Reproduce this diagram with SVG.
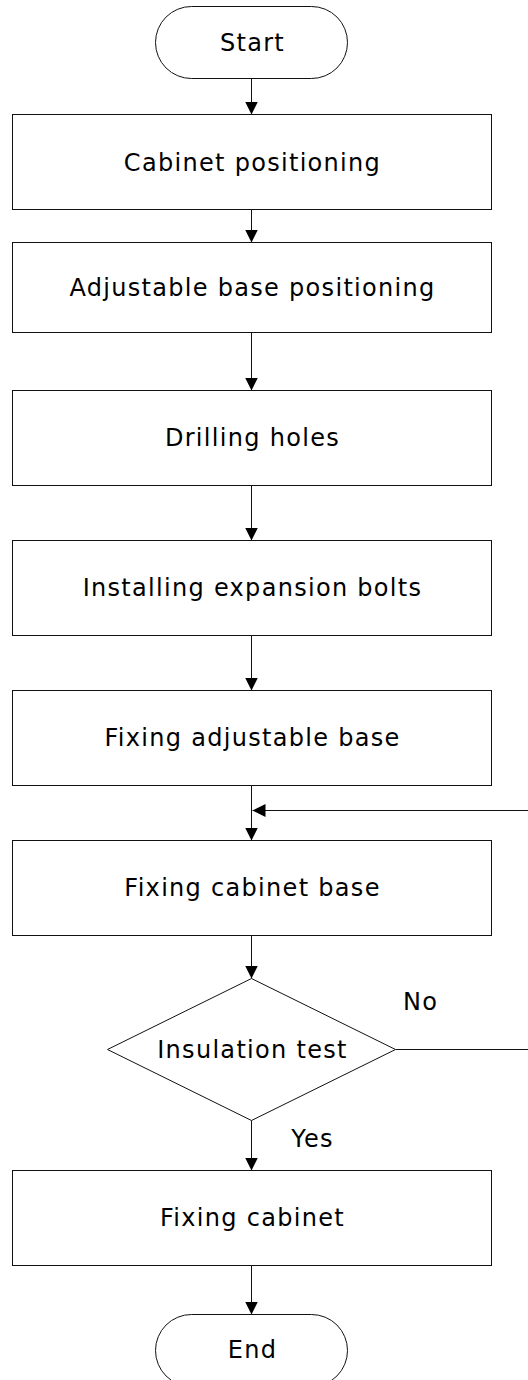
<svg xmlns="http://www.w3.org/2000/svg" width="528" height="1380" viewBox="0 0 528 1380">
<style>
.s{fill:#fff;stroke:#111;stroke-width:1}
.t{font-family:"DejaVu Sans",Verdana,sans-serif;font-size:24px;fill:#000;text-anchor:middle;dominant-baseline:central;letter-spacing:1.3px}
.c{fill:none;stroke:#111;stroke-width:1}
</style>
<defs>
<marker id="ah" markerUnits="userSpaceOnUse" markerWidth="14" markerHeight="14" refX="13" refY="6.5" orient="auto"><path d="M0,0 L13,6.5 L0,13 Z" fill="#000"/></marker>
</defs>
<rect width="528" height="1380" fill="#fff"/>
<g transform="translate(0.5,0.5)">
<g id="connectors">
<path class="c" d="M251,78 V114" marker-end="url(#ah)"/>
<path class="c" d="M251,209 V242" marker-end="url(#ah)"/>
<path class="c" d="M251,332 V390" marker-end="url(#ah)"/>
<path class="c" d="M251,485 V540" marker-end="url(#ah)"/>
<path class="c" d="M251,635 V690" marker-end="url(#ah)"/>
<path class="c" d="M251,785 V840" marker-end="url(#ah)"/>
<path class="c" d="M251,935 V978" marker-end="url(#ah)"/>
<path class="c" d="M251,1120 V1170" marker-end="url(#ah)"/>
<path class="c" d="M251,1265 V1314" marker-end="url(#ah)"/>
<path class="c" d="M395,1049 H528"/>
<path class="c" d="M528,810 H252" marker-end="url(#ah)"/>
<text class="t" x="420" y="1001">No</text>
<text class="t" x="312" y="1138">Yes</text>
</g>
<g id="start"><rect class="s" x="155" y="6" width="192" height="72" rx="36" ry="36"/><text class="t" x="252" y="42">Start</text></g>
<g id="n1"><rect class="s" x="12" y="114" width="479" height="95"/><text class="t" x="252" y="162">Cabinet positioning</text></g>
<g id="n2"><rect class="s" x="12" y="242" width="479" height="90"/><text class="t" x="252" y="287">Adjustable base positioning</text></g>
<g id="n3"><rect class="s" x="12" y="390" width="479" height="95"/><text class="t" x="252" y="437">Drilling holes</text></g>
<g id="n4"><rect class="s" x="12" y="540" width="479" height="95"/><text class="t" x="252" y="587">Installing expansion bolts</text></g>
<g id="n5"><rect class="s" x="12" y="690" width="479" height="95"/><text class="t" x="252" y="737">Fixing adjustable base</text></g>
<g id="n6"><rect class="s" x="12" y="840" width="479" height="95"/><text class="t" x="252" y="887">Fixing cabinet base</text></g>
<g id="decision"><path class="s" d="M251,978 L395,1049 L251,1120 L107,1049 Z"/><text class="t" x="252" y="1049">Insulation test</text></g>
<g id="n7"><rect class="s" x="12" y="1170" width="479" height="95"/><text class="t" x="252" y="1217">Fixing cabinet</text></g>
<g id="end"><rect class="s" x="155" y="1314" width="192" height="72" rx="36" ry="36"/><text class="t" x="252" y="1349">End</text></g>
</g>
</svg>
